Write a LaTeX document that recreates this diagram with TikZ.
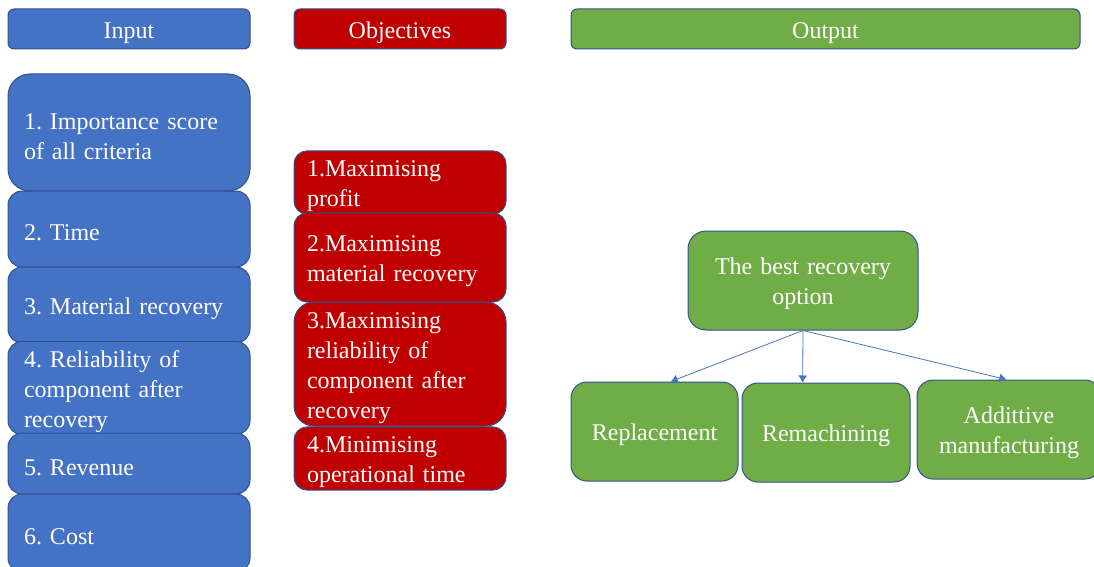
\documentclass[tikz,border=0pt]{standalone}
\usepackage{fontspec}
\setmainfont{Liberation Serif}
\usepackage{xcolor}
\usetikzlibrary{arrows.meta}
\definecolor{inblue}{HTML}{4472C4}
\definecolor{objred}{HTML}{C00000}
\definecolor{outgreen}{HTML}{70AD47}
\definecolor{edgeblue}{HTML}{2F528F}

\begin{document}
\begin{tikzpicture}[
  x=1pt,y=-1pt,
  >=Latex,
  box/.style={draw=edgeblue,line width=1pt,text=white,inner ysep=2pt,
              font=\fontsize{24}{30}\selectfont\frenchspacing,
              execute at begin node={\rule{0pt}{24pt}}},
  headbox/.style={box,rounded corners=6pt,minimum height=40pt,inner xsep=0pt,
                  align=center},
  inbox/.style={box,fill=inblue,rounded corners=14pt,align=left,
                inner xsep=16pt,text width=210pt},
  objbox/.style={box,fill=objred,rounded corners=13pt,align=left,
                 inner xsep=13pt,text width=186pt},
  outbox/.style={box,fill=outgreen,rounded corners=16pt,align=center,
                 minimum height=99pt,inner xsep=4pt},
  link/.style={-{Latex[length=7pt,width=9pt]},inblue,line width=0.8pt}
]
 \useasboundingbox (0,0) rectangle (1094,567);
 \clip (0,0) rectangle (1094,567);

 \node[headbox,fill=inblue,text width=242pt] (inhead) at (129,29) {Input};
 \node[headbox,fill=objred,text width=212pt] (objhead) at (400,29) {Objectives};
 \node[headbox,fill=outgreen,text width=509pt] (outhead) at (825.5,29) {Output};

 \node[inbox,rounded corners=22pt,minimum height=117pt] (in1) at (129,132.5)
       {1. Importance score\\of all criteria};
 \node[inbox,minimum height=76pt] (in2) at (129,229) {2. Time};
 \node[inbox,minimum height=76pt] (in3) at (129,305) {3. Material recovery};
 \node[inbox,minimum height=90pt] (in4) at (129,388)
       {4. Reliability of\\component after\\recovery};
 \node[inbox,minimum height=61pt] (in5) at (129,463.5) {5. Revenue};
 \node[inbox,minimum height=78pt] (in6) at (129,533) {6. Cost};

 \node[objbox,minimum height=61pt] (obj1) at (400,182.5)
       {1.Maximising\\profit};
 \node[objbox,minimum height=89pt] (obj2) at (400,257.5)
       {2.Maximising\\material recovery};
 \node[objbox,minimum height=124pt,rounded corners=20pt] (obj3) at (400,364)
       {3.Maximising\\reliability of\\component after\\recovery};
 \node[objbox,minimum height=61pt] (obj4) at (400,458.5)
       {4.Minimising\\operational time};

 \node[outbox,text width=222pt,rounded corners=18pt] (best) at (803,280.5)
       {The best recovery\\option};
 \node[outbox,text width=159pt] (rep) at (654.5,431.5) {Replacement};
 \node[outbox,text width=160pt] (rem) at (826,432.5) {Remachining};
 \node[outbox,text width=176pt] (add) at (1009,429.5)
       {Addittive\\manufacturing};

 \draw[link] (best.south) -- (rep.72);
 \draw[link] (best.south) -- (rem.115);
 \draw[link] (best.south) -- (add.93);
\end{tikzpicture}
\end{document}
